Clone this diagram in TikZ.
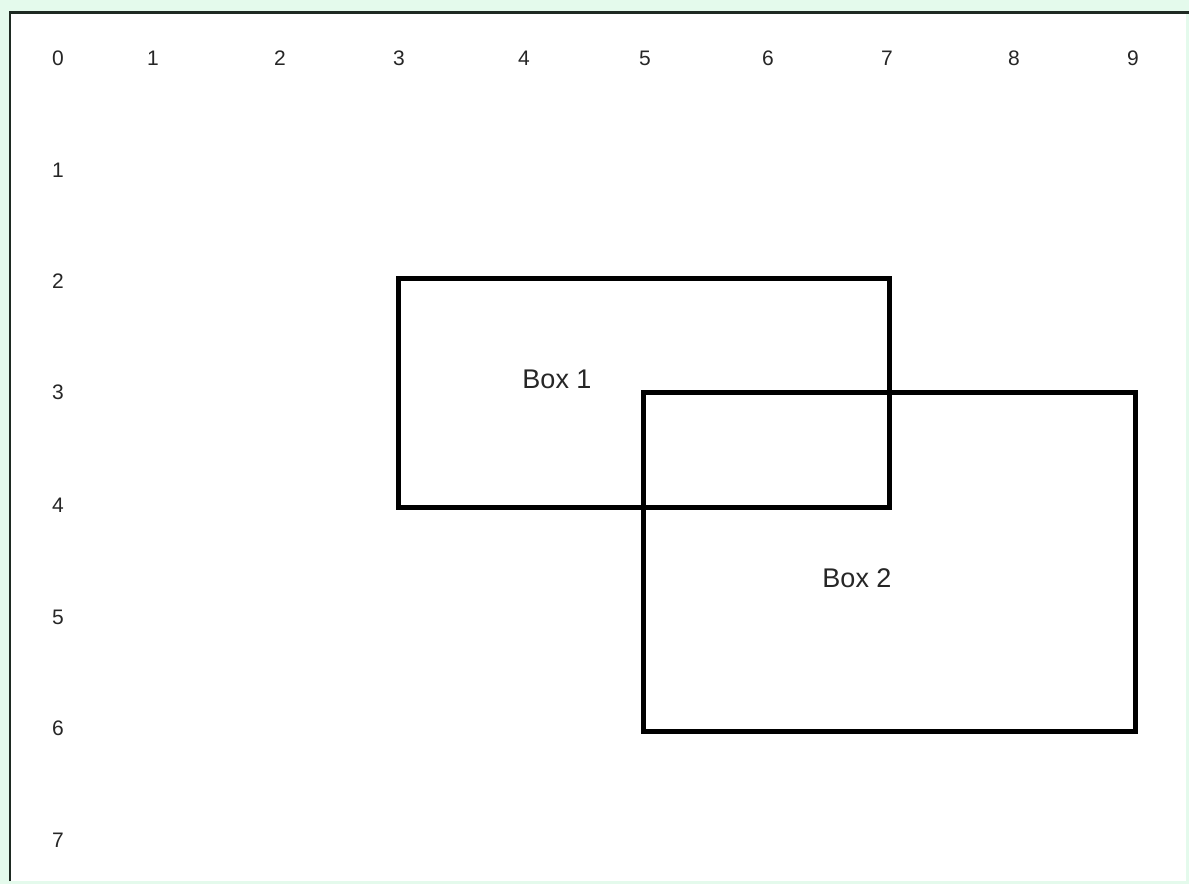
\documentclass[tikz,border=0pt]{standalone}
\usepackage{fontspec}
\setmainfont{Liberation Sans}
\definecolor{mint}{HTML}{E4FAEC}
\definecolor{frameline}{HTML}{1E2A22}
\tikzset{
  axislabel/.style={inner sep=0pt, font=\fontsize{21}{21}\selectfont, text=black!85},
  boxlabel/.style={inner sep=0pt, font=\fontsize{27}{27}\selectfont, text=black!85},
  rectbox/.style={draw=black, line width=5pt}
}
\begin{document}
\begin{tikzpicture}[x=1pt, y=-1pt]
\useasboundingbox (0,0) rectangle (1189,884);
\fill[mint] (0,0) rectangle (1189,884);
\fill[white] (10,13) rectangle (1186,881);
\draw[frameline, line width=2.5pt] (10,881) -- (10,12.5) -- (1189,12.5);
% column labels
\node[axislabel] (c0) at (58,58) {0};
\node[axislabel] (c1) at (153,58) {1};
\node[axislabel] (c2) at (280,58) {2};
\node[axislabel] (c3) at (399,58) {3};
\node[axislabel] (c4) at (524,58) {4};
\node[axislabel] (c5) at (645,58) {5};
\node[axislabel] (c6) at (768,58) {6};
\node[axislabel] (c7) at (887,58) {7};
\node[axislabel] (c8) at (1014,58) {8};
\node[axislabel] (c9) at (1133,58) {9};
% row labels
\node[axislabel] (r1) at (58,170) {1};
\node[axislabel] (r2) at (58,281) {2};
\node[axislabel] (r3) at (58,392) {3};
\node[axislabel] (r4) at (58,505) {4};
\node[axislabel] (r5) at (58,617) {5};
\node[axislabel] (r6) at (58,728) {6};
\node[axislabel] (r7) at (58,840) {7};
% boxes
\draw[rectbox] (398,278) rectangle (889,507);
\draw[rectbox] (643,392) rectangle (1135,731);
\node[boxlabel] (b1) at (557,379) {Box 1};
\node[boxlabel] (b2) at (857,578) {Box 2};
\end{tikzpicture}
\end{document}
